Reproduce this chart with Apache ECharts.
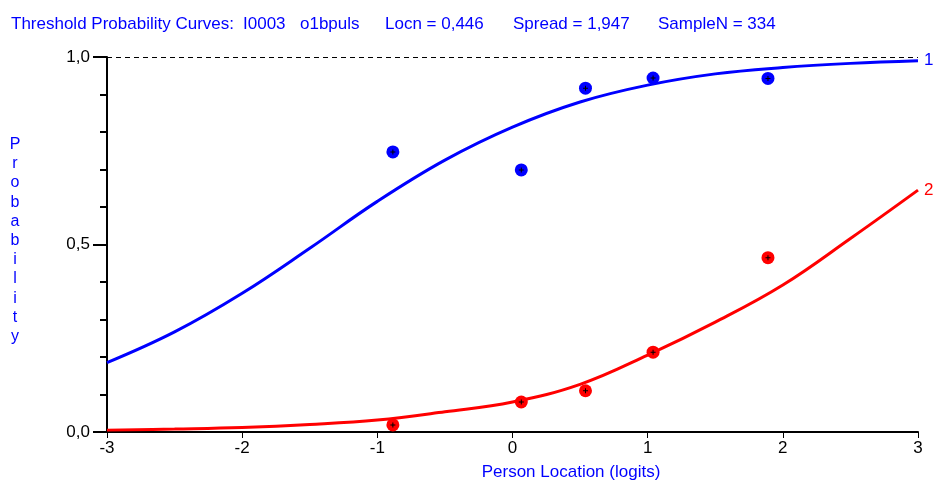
<!DOCTYPE html>
<html>
<head>
<meta charset="utf-8">
<script src="https://cdn.jsdelivr.net/npm/echarts@6/dist/echarts.min.js"></script>
<style>
html,body{margin:0;padding:0;background:#fff;}
#chart{width:933px;height:482px;}
</style>
</head>
<body>
<div id="chart"></div>
<script>
// Curve sample locations (logits) and expected probabilities
var curveX = [-3, -2.5, -2, -1.5, -1, -0.5, 0, 0.5, 1, 1.5, 2, 2.5, 3];
var curve1 = [0.185, 0.267, 0.37, 0.49, 0.615, 0.725, 0.813, 0.88, 0.925, 0.955, 0.972, 0.983, 0.99];
var curve2 = [0.005, 0.008, 0.012, 0.02, 0.032, 0.054, 0.08, 0.127, 0.205, 0.293, 0.392, 0.516, 0.645];

// Observed class intervals
var obsX = [-0.885, 0.065, 0.54, 1.04, 1.89];
var obs1 = [0.747, 0.699, 0.917, 0.944, 0.943];
var obs2 = [0.019, 0.08, 0.11, 0.213, 0.465];

var curveNames = ['1', '2'];
var yTickLabels = ['0,0', '0,5', '1,0'];

var titleParts = ['Threshold Probability Curves:', 'I0003', 'o1bpuls', 'Locn = 0,446', 'Spread = 1,947', 'SampleN = 334'];
var xName = 'Person Location (logits)';
var yName = 'Probability';

var BLUE = '#0000ff', RED = '#ff0000';
var FONT = 'Liberation Sans';
var FS = 17;

function pairs(xs, ys) { return xs.map(function (x, i) { return [x, ys[i]]; }); }

var plusSymbol = 'path://M2,0L3,0L3,2L5,2L5,3L3,3L3,5L2,5L2,3L0,3L0,2L2,2Z';

var titleX = [11, 243, 300, 385, 513, 658];
var graphics = titleParts.map(function (t, i) {
  return { type: 'text', left: titleX[i], top: 16,
    style: { text: t, fill: BLUE, font: FS + 'px "' + FONT + '"' } };
});
graphics.push({ type: 'text', x: 571, y: 472,
  style: { text: xName, fill: BLUE, font: FS + 'px "' + FONT + '"', textAlign: 'center', textVerticalAlign: 'middle' } });
graphics.push({ type: 'text', x: 15, y: 135,
  style: { text: yName.split('').join('\n'), fill: BLUE, font: '16px "' + FONT + '"', textAlign: 'center', textVerticalAlign: 'top', lineHeight: 19.2 } });

var chart = echarts.init(document.getElementById('chart'), null, { renderer: 'canvas' });
chart.setOption({
  animation: false,
  backgroundColor: '#fff',
  grid: { left: 107, right: 15, top: 57, bottom: 50, containLabel: false },
  xAxis: {
    type: 'value', min: -3, max: 3, interval: 1,
    axisLine: { onZero: false, lineStyle: { color: '#000', width: 2 } },
    axisTick: { show: true, length: 6, lineStyle: { color: '#000', width: 1 } },
    axisLabel: { color: '#000', fontFamily: FONT, fontSize: FS, margin: 8,
      formatter: function (v) { return String(v); } },
    splitLine: { show: false }
  },
  yAxis: {
    type: 'value', min: 0, max: 1, interval: 0.5,
    axisLine: { show: true, onZero: false, lineStyle: { color: '#000', width: 2 } },
    axisTick: { show: true, length: 14, lineStyle: { color: '#000', width: 2 } },
    minorTick: { show: true, splitNumber: 5, length: 7, lineStyle: { color: '#000', width: 2 } },
    axisLabel: { color: '#000', fontFamily: FONT, fontSize: FS, margin: 17,
      formatter: function (v) { return yTickLabels[Math.round(v * 2)]; } },
    splitLine: { show: false }
  },
  graphic: graphics,
  series: [
    { type: 'line', name: curveNames[0], data: pairs(curveX, curve1), smooth: 0.4, symbol: 'none',
      lineStyle: { color: BLUE, width: 3 }, z: 3,
      endLabel: { show: true, formatter: curveNames[0], color: BLUE, fontFamily: FONT, fontSize: FS, distance: 6 },
      markLine: { silent: true, symbol: 'none', label: { show: false },
        lineStyle: { color: '#000', type: [5, 4], width: 1 }, data: [{ yAxis: 1 }] } },
    { type: 'line', name: curveNames[1], data: pairs(curveX, curve2), smooth: 0.4, symbol: 'none',
      lineStyle: { color: RED, width: 3 }, z: 3,
      endLabel: { show: true, formatter: curveNames[1], color: RED, fontFamily: FONT, fontSize: FS, distance: 6 } },
    { type: 'scatter', data: pairs(obsX, obs1), symbol: 'circle', symbolSize: 13,
      itemStyle: { color: BLUE, opacity: 1 }, z: 4 },
    { type: 'scatter', data: pairs(obsX, obs2), symbol: 'circle', symbolSize: 13,
      itemStyle: { color: RED, opacity: 1 }, z: 4 },
    { type: 'scatter', data: pairs(obsX, obs1).concat(pairs(obsX, obs2)), symbol: plusSymbol, symbolSize: 5,
      itemStyle: { color: '#000', opacity: 1 }, z: 5 }
  ]
});
</script>
</body>
</html>
